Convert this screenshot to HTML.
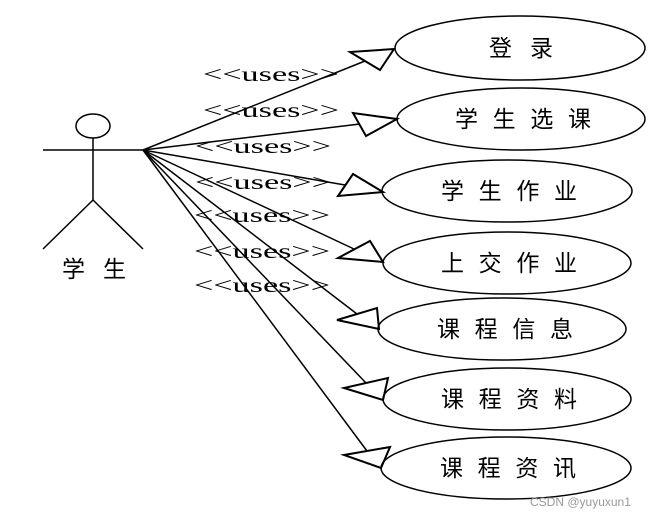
<!DOCTYPE html>
<html><head><meta charset="utf-8"><style>
html,body{margin:0;padding:0;background:#fff;}
svg{display:block;}
.u{font-family:"Liberation Serif",serif;font-size:21px;}
.c{font-family:"Liberation Sans","Noto Sans CJK SC",sans-serif;font-size:23px;}
</style></head><body>
<svg width="654" height="518" viewBox="0 0 654 518" xmlns="http://www.w3.org/2000/svg">
<g fill="none" stroke="#000" stroke-width="1.5">
<ellipse cx="93" cy="126" rx="17" ry="12"/>
<line x1="93" y1="138" x2="93" y2="200"/>
<line x1="43" y1="150" x2="143" y2="150"/>
<line x1="93" y1="200" x2="43" y2="249"/>
<line x1="93" y1="200" x2="143" y2="249"/>
<ellipse cx="520" cy="48" rx="125" ry="32"/>
<ellipse cx="521" cy="119" rx="124" ry="31"/>
<ellipse cx="507" cy="191" rx="125" ry="31"/>
<ellipse cx="507" cy="263" rx="124" ry="31"/>
<ellipse cx="502" cy="329" rx="124" ry="31"/>
<ellipse cx="507" cy="399" rx="124" ry="31"/>
<ellipse cx="506" cy="468" rx="125" ry="31"/>
<line x1="143" y1="150" x2="365" y2="61"/>
<line x1="143" y1="150" x2="360" y2="124"/>
<line x1="143" y1="150" x2="345" y2="185"/>
<line x1="143" y1="150" x2="354" y2="249"/>
<line x1="143" y1="150" x2="357" y2="314"/>
<line x1="143" y1="150" x2="366" y2="383"/>
<line x1="143" y1="150" x2="367" y2="451"/>
<g stroke-width="2">
<polygon points="394,49 350,52 380,70"/>
<polygon points="397,119 353,113 366,136"/>
<polygon points="383,192 353,174 338,196"/>
<polygon points="383,262 370,241 338,258"/>
<polygon points="379,329 377,308 337,320"/>
<polygon points="383,400 388,378 344,388"/>
<polygon points="381,468 390,447 344,455"/>
</g>
</g>
<g class="u" fill="#000">
<text x="203" y="81" textLength="136" lengthAdjust="spacingAndGlyphs">&lt;&lt;uses&gt;&gt;</text>
<text x="203" y="117" textLength="136" lengthAdjust="spacingAndGlyphs">&lt;&lt;uses&gt;&gt;</text>
<text x="195" y="153" textLength="136" lengthAdjust="spacingAndGlyphs">&lt;&lt;uses&gt;&gt;</text>
<text x="195" y="189" textLength="136" lengthAdjust="spacingAndGlyphs">&lt;&lt;uses&gt;&gt;</text>
<text x="194" y="222" textLength="136" lengthAdjust="spacingAndGlyphs">&lt;&lt;uses&gt;&gt;</text>
<text x="194" y="258" textLength="136" lengthAdjust="spacingAndGlyphs">&lt;&lt;uses&gt;&gt;</text>
<text x="194" y="292" textLength="136" lengthAdjust="spacingAndGlyphs">&lt;&lt;uses&gt;&gt;</text>
</g>
<g class="c" fill="#000">
<text x="62" y="277" textLength="64" lengthAdjust="spacing">学生</text>
<text x="489" y="56" textLength="64" lengthAdjust="spacing">登录</text>
<text x="455" y="127" textLength="136" lengthAdjust="spacing">学生选课</text>
<text x="441" y="199" textLength="136" lengthAdjust="spacing">学生作业</text>
<text x="441" y="271" textLength="136" lengthAdjust="spacing">上交作业</text>
<text x="437" y="337" textLength="136" lengthAdjust="spacing">课程信息</text>
<text x="441" y="407" textLength="136" lengthAdjust="spacing">课程资料</text>
<text x="440" y="476" textLength="136" lengthAdjust="spacing">课程资讯</text>
</g>
<text x="530" y="506" font-family="Liberation Sans,sans-serif" font-size="12" fill="#999">CSDN @yuyuxun1</text>
</svg>
</body></html>
